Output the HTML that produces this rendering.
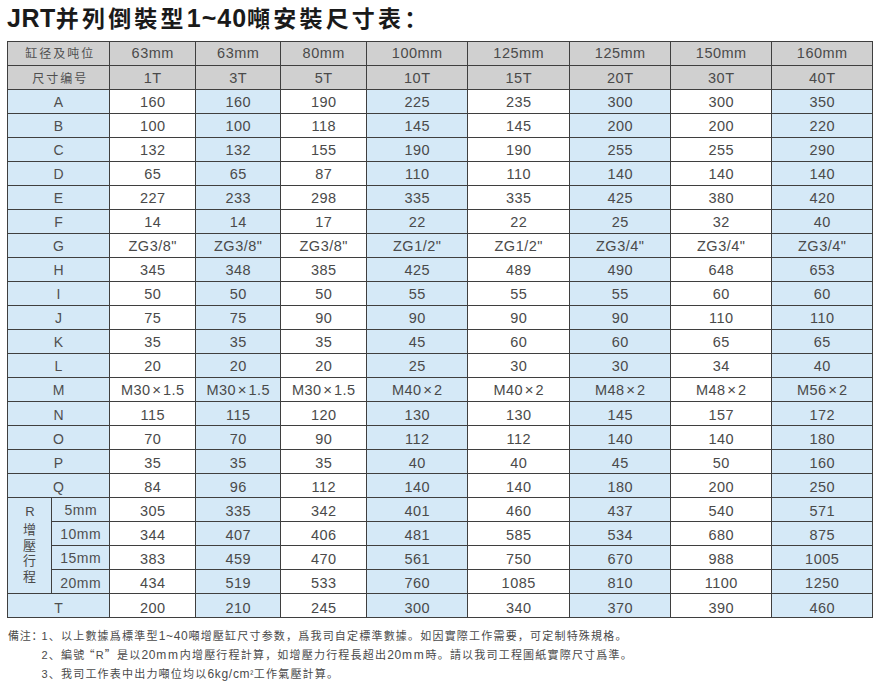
<!DOCTYPE html>
<html><head><meta charset="utf-8"><title>JRT并列倒裝型1~40噸安裝尺寸表</title>
<style>
*{margin:0;padding:0;box-sizing:border-box}
html,body{width:883px;height:682px;background:#fff;overflow:hidden}
body{position:relative;font-family:"Liberation Sans","Noto Sans CJK TC",sans-serif;color:#3a3a3a}
.title{position:absolute;left:7px;top:2px;font-family:"Liberation Sans","Noto Sans CJK TC",sans-serif;font-weight:700;font-size:23px;line-height:30px;color:#1a1a1a;letter-spacing:3.2px;white-space:nowrap}
.title .la{font-size:25px;letter-spacing:0.5px;font-weight:700}
.title .la2{font-size:25px;letter-spacing:1px;font-weight:700}
.title .co{font-family:"Noto Sans CJK SC",sans-serif}
.tbl{position:absolute;left:7px;top:41px;display:grid;grid-template-columns:43px 57px 85px 84px 85px 100px 101px 100px 100px 100px;grid-auto-rows:23px;gap:1px;padding:1px;background:#3f3f3f}
.c{text-align:center;font-size:14.5px;line-height:23px;white-space:nowrap;overflow:visible;letter-spacing:0.5px;text-indent:0.5px;color:#4a4a4a}
.o0{padding-top:0}
.o1{padding-top:1px}
.o2{padding-top:2px}
.o3{padding-top:3px}
.h{background:#d0d0d0}
.w{background:#fff}
.b{background:#d5e9f7}
.s2{grid-column:span 2}
.l{color:#4f4f4f;font-size:14px}
.cj{font-family:"Liberation Sans","Noto Sans CJK SC",sans-serif;font-size:12px;letter-spacing:2px;padding-left:3px}
.rv{grid-row:span 4;display:flex;flex-direction:column;justify-content:center;align-items:center;font-size:13px;line-height:15.7px;color:#4a4a4a}
.x{font-size:15px;margin:0 1.5px;line-height:0}
.rr{position:relative;top:-2px;left:0.5px}
.notes{position:absolute;left:41.5px;font-family:"Liberation Sans","Noto Sans CJK SC",sans-serif;font-size:11px;line-height:19px;letter-spacing:1.2px;color:#4a4a4a;white-space:nowrap}
.n1{top:627px;left:8px}
.n2{top:644.5px}
.n3{top:665px}
.lab{display:inline-block;width:33.5px;letter-spacing:0.8px}
.q1{margin-left:-2px}
.mm{letter-spacing:1.8px}
.lt{font-size:12px;letter-spacing:0.7px}
.sup{font-size:9px;vertical-align:1px;letter-spacing:0.5px}
.q{font-family:"Noto Sans CJK TC",sans-serif;font-feature-settings:"fwid"}
</style></head><body>
<div class="title"><span class="la">JRT</span>并列倒裝型<span class="la2">1~40</span>噸安裝尺寸表<span class="co">：</span></div>
<div class="tbl">
<div class="c h l s2 cj o1">缸径及吨位</div><div class="c h o0">63mm</div><div class="c h o0">63mm</div><div class="c h o0">80mm</div><div class="c h o0">100mm</div><div class="c h o0">125mm</div><div class="c h o0">125mm</div><div class="c h o0">150mm</div><div class="c h o0">160mm</div><div class="c h l s2 cj o2">尺寸编号</div><div class="c h o1">1T</div><div class="c h o1">3T</div><div class="c h o1">5T</div><div class="c h o1">10T</div><div class="c h o1">15T</div><div class="c h o1">20T</div><div class="c h o1">30T</div><div class="c h o1">40T</div><div class="c b l s2 o1">A</div><div class="c w o1">160</div><div class="c b o1">160</div><div class="c w o1">190</div><div class="c b o1">225</div><div class="c w o1">235</div><div class="c b o1">300</div><div class="c w o1">300</div><div class="c b o1">350</div><div class="c b l s2 o1">B</div><div class="c w o1">100</div><div class="c b o1">100</div><div class="c w o1">118</div><div class="c b o1">145</div><div class="c w o1">145</div><div class="c b o1">200</div><div class="c w o1">200</div><div class="c b o1">220</div><div class="c b l s2 o1">C</div><div class="c w o1">132</div><div class="c b o1">132</div><div class="c w o1">155</div><div class="c b o1">190</div><div class="c w o1">190</div><div class="c b o1">255</div><div class="c w o1">255</div><div class="c b o1">290</div><div class="c b l s2 o1">D</div><div class="c w o1">65</div><div class="c b o1">65</div><div class="c w o1">87</div><div class="c b o1">110</div><div class="c w o1">110</div><div class="c b o1">140</div><div class="c w o1">140</div><div class="c b o1">140</div><div class="c b l s2 o1">E</div><div class="c w o1">227</div><div class="c b o1">233</div><div class="c w o1">298</div><div class="c b o1">335</div><div class="c w o1">335</div><div class="c b o1">425</div><div class="c w o1">380</div><div class="c b o1">420</div><div class="c b l s2 o1">F</div><div class="c w o1">14</div><div class="c b o1">14</div><div class="c w o1">17</div><div class="c b o1">22</div><div class="c w o1">22</div><div class="c b o1">25</div><div class="c w o1">32</div><div class="c b o1">40</div><div class="c b l s2 o1">G</div><div class="c w o1">ZG3/8"</div><div class="c b o1">ZG3/8"</div><div class="c w o1">ZG3/8"</div><div class="c b o1">ZG1/2"</div><div class="c w o1">ZG1/2"</div><div class="c b o1">ZG3/4"</div><div class="c w o1">ZG3/4"</div><div class="c b o1">ZG3/4"</div><div class="c b l s2 o1">H</div><div class="c w o1">345</div><div class="c b o1">348</div><div class="c w o1">385</div><div class="c b o1">425</div><div class="c w o1">489</div><div class="c b o1">490</div><div class="c w o1">648</div><div class="c b o1">653</div><div class="c b l s2 o1">I</div><div class="c w o1">50</div><div class="c b o1">50</div><div class="c w o1">50</div><div class="c b o1">55</div><div class="c w o1">55</div><div class="c b o1">55</div><div class="c w o1">60</div><div class="c b o1">60</div><div class="c b l s2 o1">J</div><div class="c w o1">75</div><div class="c b o1">75</div><div class="c w o1">90</div><div class="c b o1">90</div><div class="c w o1">90</div><div class="c b o1">90</div><div class="c w o1">110</div><div class="c b o1">110</div><div class="c b l s2 o1">K</div><div class="c w o1">35</div><div class="c b o1">35</div><div class="c w o1">35</div><div class="c b o1">45</div><div class="c w o1">60</div><div class="c b o1">60</div><div class="c w o1">65</div><div class="c b o1">65</div><div class="c b l s2 o1">L</div><div class="c w o1">20</div><div class="c b o1">20</div><div class="c w o1">20</div><div class="c b o1">25</div><div class="c w o1">30</div><div class="c b o1">30</div><div class="c w o1">34</div><div class="c b o1">40</div><div class="c b l s2 o1">M</div><div class="c w o1">M30<span class="x">×</span>1.5</div><div class="c b o1">M30<span class="x">×</span>1.5</div><div class="c w o1">M30<span class="x">×</span>1.5</div><div class="c b o1">M40<span class="x">×</span>2</div><div class="c w o1">M40<span class="x">×</span>2</div><div class="c b o1">M48<span class="x">×</span>2</div><div class="c w o1">M48<span class="x">×</span>2</div><div class="c b o1">M56<span class="x">×</span>2</div><div class="c b l s2 o2">N</div><div class="c w o2">115</div><div class="c b o2">115</div><div class="c w o2">120</div><div class="c b o2">130</div><div class="c w o2">130</div><div class="c b o2">145</div><div class="c w o2">157</div><div class="c b o2">172</div><div class="c b l s2 o2">O</div><div class="c w o2">70</div><div class="c b o2">70</div><div class="c w o2">90</div><div class="c b o2">112</div><div class="c w o2">112</div><div class="c b o2">140</div><div class="c w o2">140</div><div class="c b o2">180</div><div class="c b l s2 o2">P</div><div class="c w o2">35</div><div class="c b o2">35</div><div class="c w o2">35</div><div class="c b o2">40</div><div class="c w o2">40</div><div class="c b o2">45</div><div class="c w o2">50</div><div class="c b o2">160</div><div class="c b l s2 o2">Q</div><div class="c w o2">84</div><div class="c b o2">96</div><div class="c w o2">112</div><div class="c b o2">140</div><div class="c w o2">140</div><div class="c b o2">180</div><div class="c w o2">200</div><div class="c b o2">250</div><div class="c b rv"><span class="rr">R</span><span>增</span><span>壓</span><span>行</span><span>程</span></div><div class="c b l o1">5mm</div><div class="c w o2">305</div><div class="c b o2">335</div><div class="c w o2">342</div><div class="c b o2">401</div><div class="c w o2">460</div><div class="c b o2">437</div><div class="c w o2">540</div><div class="c b o2">571</div><div class="c b l o1">10mm</div><div class="c w o2">344</div><div class="c b o2">407</div><div class="c w o2">406</div><div class="c b o2">481</div><div class="c w o2">585</div><div class="c b o2">534</div><div class="c w o2">680</div><div class="c b o2">875</div><div class="c b l o1">15mm</div><div class="c w o2">383</div><div class="c b o2">459</div><div class="c w o2">470</div><div class="c b o2">561</div><div class="c w o2">750</div><div class="c b o2">670</div><div class="c w o2">988</div><div class="c b o2">1005</div><div class="c b l o2">20mm</div><div class="c w o2">434</div><div class="c b o2">519</div><div class="c w o2">533</div><div class="c b o2">760</div><div class="c w o2">1085</div><div class="c b o2">810</div><div class="c w o2">1100</div><div class="c b o2">1250</div><div class="c b l s2 o3">T</div><div class="c w o3">200</div><div class="c b o3">210</div><div class="c w o3">245</div><div class="c b o3">300</div><div class="c w o3">340</div><div class="c b o3">370</div><div class="c w o3">390</div><div class="c b o3">460</div>
</div>
<div class="notes n1"><span class="lab">備注<span class="cl">：</span></span>1、以上數據爲標準型<span class="lt">1~40</span>噸增壓缸尺寸参数，爲我司自定標準數據。如因實際工作需要，可定制特殊規格。</div>
<div class="notes n2">2、編號<span class="q q1">“</span>R<span class="q">”</span>是以<span class="lt">20<span class="mm">mm</span></span>内增壓行程計算，如增壓力行程長超出<span class="lt">20<span class="mm">mm</span></span>時。請以我司工程圖紙實際尺寸爲準。</div>
<div class="notes n3">3、我司工作表中出力噸位均以<span class="lt">6kg/cm<span class="sup">²</span></span>工作氣壓計算。</div>
</body></html>
